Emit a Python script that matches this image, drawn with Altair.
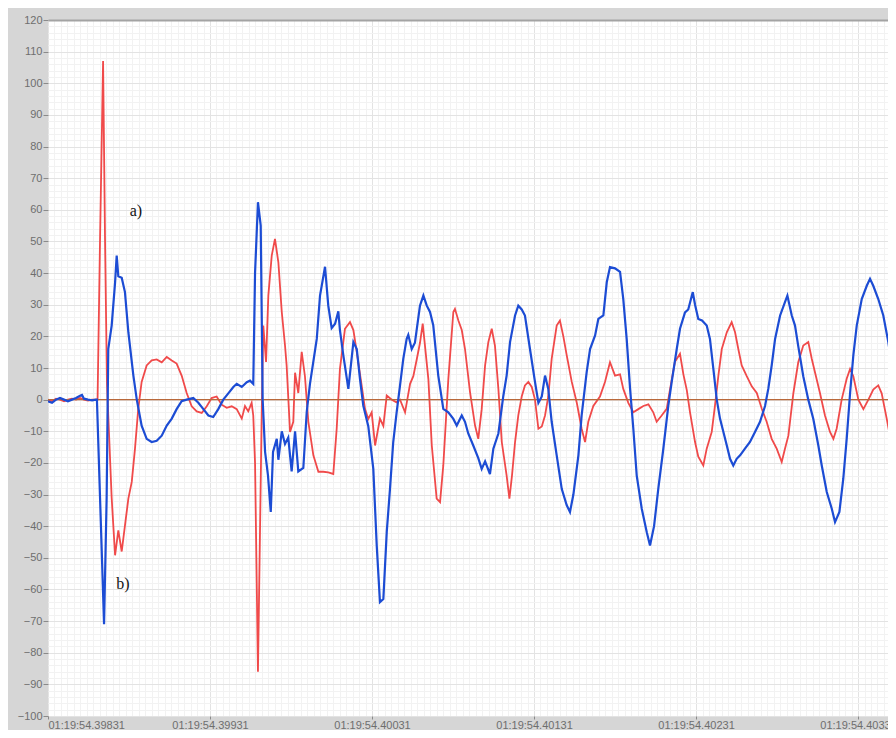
import altair as alt
import pandas as pd

# time in ms after 01:19:54.39831
blue_t = [0.000, 0.025, 0.049, 0.074, 0.099, 0.123, 0.148, 0.173, 0.198, 0.210, 0.222, 0.247, 0.272, 0.296,
          0.302, 0.346, 0.362, 0.372, 0.393, 0.414, 0.424, 0.434, 0.455, 0.475, 0.496, 0.527, 0.548, 0.578,
          0.609, 0.640, 0.671, 0.702, 0.733, 0.764, 0.794, 0.825, 0.856, 0.897, 0.928, 0.959, 0.990, 1.020,
          1.051, 1.082, 1.113, 1.144, 1.165, 1.196, 1.227, 1.247, 1.267, 1.278, 1.296, 1.313, 1.319, 1.325,
          1.340, 1.358, 1.375, 1.389, 1.412, 1.422, 1.443, 1.463, 1.483, 1.504, 1.525, 1.545, 1.576, 1.597,
          1.617, 1.659, 1.679, 1.710, 1.730, 1.751, 1.772, 1.792, 1.802, 1.823, 1.854, 1.885, 1.906, 1.926,
          1.946, 1.977, 2.008, 2.029, 2.049, 2.070, 2.091, 2.111, 2.131, 2.152, 2.173, 2.193, 2.214, 2.224,
          2.245, 2.265, 2.296, 2.317, 2.338, 2.358, 2.378, 2.409, 2.440, 2.471, 2.502, 2.523, 2.554, 2.574,
          2.594, 2.625, 2.656, 2.677, 2.698, 2.728, 2.749, 2.780, 2.810, 2.831, 2.852, 2.883, 2.903, 2.924,
          2.944, 2.975, 3.006, 3.027, 3.048, 3.068, 3.088, 3.109, 3.140, 3.171, 3.202, 3.222, 3.243, 3.274,
          3.294, 3.325, 3.346, 3.377, 3.397, 3.428, 3.449, 3.469, 3.500, 3.531, 3.551, 3.572, 3.593, 3.613,
          3.634, 3.665, 3.696, 3.716, 3.741, 3.767, 3.798, 3.829, 3.850, 3.881, 3.901, 3.932, 3.952, 3.980,
          3.994, 4.014, 4.037, 4.066, 4.086, 4.107, 4.128, 4.148, 4.169, 4.190, 4.210, 4.230, 4.251, 4.272,
          4.302, 4.333, 4.364, 4.395, 4.426, 4.446, 4.467, 4.488, 4.519, 4.549, 4.564, 4.591, 4.611, 4.631,
          4.662, 4.693, 4.724, 4.755, 4.776, 4.807, 4.838, 4.858, 4.885, 4.909, 4.930, 4.951, 4.971, 4.992,
          5.023, 5.054, 5.074, 5.094, 5.125, 5.156, 5.187, 5.208, 5.228]
blue_v = [-0.5, -1.0, 0.0, 0.5, 0.0, -0.5, 0.0, 0.5, 1.2, 1.5, 0.3, 0.0, -0.2, 0.0,
          0.0, -71.0, -31.0, 16.0, 23.4, 37.0, 45.5, 39.0, 38.5, 34.0, 21.3, 7.6, 0.0, -8.2,
          -12.4, -13.4, -13.0, -11.4, -8.2, -6.0, -3.0, -0.5, 0.0, 0.5, -1.0, -3.0, -5.0, -5.5,
          -3.0, 0.0, 2.0, 4.0, 5.0, 4.0, 5.5, 6.0, 5.0, 40.0, 62.4, 55.0, 27.7, 0.0,
          -16.5, -24.0, -35.5, -16.5, -12.4, -19.0, -10.0, -14.0, -12.0, -22.7, -10.0, -22.7, -21.6, -3.9,
          5.0, 19.2, 32.9, 42.0, 29.7, 22.6, 24.0, 27.9, 22.0, 14.0, 3.4, 18.2, 16.0, 6.4,
          -1.9, -8.4, -21.9, -46.0, -64.0, -63.0, -41.8, -28.2, -13.4, -4.0, 4.5, 12.9, 19.2, 20.5,
          16.0, 18.0, 29.7, 32.9, 29.7, 27.7, 23.5, 7.6, -2.9, -4.0, -6.1, -8.2, -5.0, -7.0,
          -10.7, -14.5, -18.5, -21.9, -19.5, -23.5, -15.5, -10.7, 1.0, 7.6, 18.2, 26.6, 29.7, 28.5,
          26.6, 16.0, 5.6, -1.0, 1.0, 7.6, 3.4, -7.0, -17.6, -28.2, -33.4, -35.5, -30.0, -17.6,
          -5.0, 8.7, 16.0, 20.3, 25.5, 26.6, 37.1, 41.9, 41.5, 40.4, 31.8, 19.2, 3.4, -9.2,
          -24.0, -34.5, -41.9, -46.1, -40.0, -28.2, -15.6, -1.9, 5.6, 16.0, 22.4, 27.6, 28.5, 34.0,
          30.0, 25.5, 25.0, 23.4, 19.2, 9.7, 0.0, -6.0, -10.2, -14.5, -18.7, -20.8, -18.7, -17.6,
          -15.5, -13.4, -10.2, -7.0, -2.0, 3.4, 10.8, 19.2, 26.6, 30.8, 32.9, 26.6, 23.4, 16.9,
          7.4, 0.0, -6.1, -14.5, -20.8, -29.2, -34.5, -38.7, -35.5, -25.0, -12.4, 2.1, 14.0, 23.4,
          31.8, 36.0, 38.2, 36.0, 31.8, 26.6, 18.2, 10.8, 3.4]

red_t = [0.000, 0.025, 0.049, 0.074, 0.099, 0.123, 0.148, 0.173, 0.198, 0.222, 0.247, 0.272, 0.296, 0.306,
         0.321, 0.340, 0.352, 0.364, 0.372, 0.393, 0.414, 0.434, 0.455, 0.475, 0.496, 0.517, 0.537, 0.557,
         0.578, 0.609, 0.640, 0.671, 0.702, 0.733, 0.764, 0.794, 0.825, 0.856, 0.887, 0.918, 0.949, 0.980,
         1.010, 1.041, 1.072, 1.103, 1.134, 1.165, 1.196, 1.216, 1.236, 1.257, 1.267, 1.278, 1.296, 1.309,
         1.319, 1.329, 1.346, 1.360, 1.381, 1.401, 1.422, 1.443, 1.463, 1.473, 1.494, 1.514, 1.525, 1.545,
         1.566, 1.586, 1.607, 1.638, 1.669, 1.699, 1.730, 1.761, 1.782, 1.802, 1.833, 1.864, 1.885, 1.906,
         1.936, 1.957, 1.977, 1.998, 2.019, 2.049, 2.070, 2.091, 2.122, 2.152, 2.173, 2.204, 2.235, 2.255,
         2.276, 2.296, 2.313, 2.327, 2.348, 2.369, 2.399, 2.420, 2.440, 2.471, 2.502, 2.512, 2.533, 2.554,
         2.574, 2.605, 2.636, 2.656, 2.677, 2.698, 2.718, 2.739, 2.759, 2.780, 2.801, 2.831, 2.848, 2.864,
         2.883, 2.903, 2.924, 2.944, 2.965, 2.986, 3.006, 3.027, 3.048, 3.068, 3.088, 3.109, 3.140, 3.160,
         3.181, 3.202, 3.233, 3.264, 3.294, 3.315, 3.335, 3.366, 3.407, 3.438, 3.469, 3.500, 3.531, 3.551,
         3.582, 3.613, 3.644, 3.675, 3.706, 3.736, 3.757, 3.788, 3.819, 3.840, 3.870, 3.901, 3.922, 3.943,
         3.963, 3.994, 4.014, 4.045, 4.066, 4.097, 4.117, 4.138, 4.159, 4.190, 4.220, 4.241, 4.261, 4.282,
         4.313, 4.344, 4.375, 4.406, 4.436, 4.467, 4.498, 4.529, 4.549, 4.570, 4.601, 4.631, 4.662, 4.693,
         4.714, 4.735, 4.765, 4.796, 4.827, 4.848, 4.868, 4.899, 4.930, 4.951, 4.971, 5.002, 5.033, 5.064,
         5.094, 5.125, 5.146, 5.177, 5.208, 5.228]
red_v = [0.0, -0.5, 0.3, 0.0, -0.5, 0.0, 0.3, 0.0, 0.5, 0.0, -0.3, 0.0, 0.0, 0.0,
         50.0, 107.0, 50.7, 5.0, -5.0, -31.0, -49.2, -41.3, -48.0, -39.8, -31.3, -26.0, -15.5, -2.9,
         5.6, 10.8, 12.4, 12.7, 11.8, 13.5, 12.4, 11.4, 7.6, 2.1, -2.1, -3.7, -4.2, -2.1,
         0.5, 1.0, -1.6, -2.6, -2.1, -3.0, -6.0, -2.0, -3.7, -1.0, -5.0, -20.0, -86.0, -40.0,
         -5.0, 23.4, 11.9, 32.9, 45.5, 50.8, 43.4, 27.7, 17.1, 10.8, -10.2, -7.0, 8.5, 2.1,
         15.1, 7.4, -7.0, -17.6, -22.8, -22.8, -23.0, -23.5, -9.2, 9.7, 22.4, 24.5, 22.0, 15.0,
         4.5, -3.0, -6.1, -4.0, -14.5, -6.0, -8.3, 1.3, 0.0, -0.9, 0.0, -4.0, 5.0, 7.4,
         12.7, 17.9, 24.0, 17.0, 6.4, -14.5, -31.3, -32.4, -20.8, 6.4, 27.7, 28.7, 25.0, 22.0,
         16.0, 2.4, -8.2, -12.4, -3.0, 10.8, 18.2, 22.4, 17.0, 3.4, -13.4, -24.0, -31.3, -24.0,
         -13.4, -5.0, 1.0, 4.5, 5.6, 4.0, 0.0, -9.2, -8.5, -5.0, 1.0, 12.9, 23.4, 25.0,
         20.0, 14.0, 5.6, -1.0, -9.2, -13.4, -7.0, -2.0, 1.0, 5.6, 11.8, 7.6, 8.0, 3.4,
         -1.0, -4.0, -3.0, -2.0, -1.5, -4.0, -7.0, -5.0, -2.9, 3.4, 12.0, 14.5, 8.0, 3.0,
         -4.0, -13.4, -18.0, -20.8, -15.5, -10.2, -1.9, 7.6, 16.0, 21.3, 24.5, 21.3, 16.0, 10.8,
         7.4, 4.2, 2.1, -2.9, -7.0, -12.4, -15.5, -19.7, -15.5, -11.4, 2.1, 11.8, 17.1, 18.2,
         13.0, 8.5, 2.1, -5.0, -10.2, -12.4, -9.2, 0.0, 6.6, 9.7, 7.4, 0.0, -3.0, 0.0,
         3.2, 4.5, 2.0, -6.0, -14.5, -17.6]

x_ticks = [0, 1, 2, 3, 4, 5]
y_ticks = list(range(-100, 121, 10))
note_t = [0.543, 0.463]
note_v = [59.7, -58.2]
note_txt = ["a)", "b)"]

blue = pd.DataFrame({"t": blue_t, "v": blue_v})
red = pd.DataFrame({"t": red_t, "v": red_v})
zero = pd.DataFrame({"v": [0]})
notes = pd.DataFrame({"t": note_t, "v": note_v, "txt": note_txt})

xs = alt.Scale(domain=[0, 5.185], nice=False, zero=False)
ys = alt.Scale(domain=[-100, 120], nice=False, zero=False)

minor_x = [round(i * 0.04, 2) for i in range(0, 131) if i % 25 != 0]
minor_y = [v for v in range(-100, 121, 2) if v % 10 != 0]

label_color = "#6e6e6e"

red_layer = alt.Chart(red).mark_line(color="#f04a4a", strokeWidth=1.8, clip=True).encode(
    x=alt.X("t:Q", scale=xs, axis=alt.Axis(orient="top", values=minor_x, grid=True, gridColor="#f2f2f2",
                                           labels=False, ticks=False, domain=True, domainColor="#a3a3a3",
                                           domainWidth=2, title=None)),
    y=alt.Y("v:Q", scale=ys, axis=alt.Axis(orient="right", values=minor_y, grid=True, gridColor="#f2f2f2",
                                           labels=False, ticks=False, domain=False, title=None)),
    order="t:Q",
)

zero_layer = alt.Chart(zero).mark_rule(color="#b8683a", strokeWidth=1.3).encode(
    y=alt.Y("v:Q", scale=ys, axis=None)
)

blue_layer = alt.Chart(blue).mark_line(color="#1c4cd4", strokeWidth=2.2, clip=True).encode(
    x=alt.X("t:Q", scale=xs, axis=alt.Axis(orient="bottom", values=x_ticks, grid=True, gridColor="#e3e3e3",
                                           labelExpr="'01:19:54.' + format(39831 + datum.value * 100, 'd')",
                                           tickSize=3, tickColor="#8a8a8a", domain=False,
                                           labelColor=label_color, labelFontSize=11, labelPadding=0,
                                           labelFont="Liberation Sans", title=None)),
    y=alt.Y("v:Q", scale=ys, axis=alt.Axis(orient="left", values=y_ticks, grid=True, gridColor="#e3e3e3",
                                           tickSize=5, tickColor="#8a8a8a", domain=False,
                                           labelColor=label_color, labelFontSize=11, labelPadding=1,
                                           labelFont="Liberation Sans", title=None)),
    order="t:Q",
)

text_layer = alt.Chart(notes).mark_text(font="Liberation Serif", fontSize=16, color="#111111").encode(
    x=alt.X("t:Q", scale=xs, axis=None),
    y=alt.Y("v:Q", scale=ys, axis=None),
    text="txt:N",
)

chart = alt.layer(red_layer, zero_layer, blue_layer, text_layer).resolve_axis(
    x="independent", y="independent"
).properties(
    width=840,
    height=696,
    autosize=alt.AutoSizeParams(type="none"),
    padding={"left": 40, "top": 12, "right": 0, "bottom": 14},
    background="#d6d6d6",
).configure_view(fill="white", stroke=None)

chart.save("out.html", embed_options={"renderer": "svg", "actions": False})
